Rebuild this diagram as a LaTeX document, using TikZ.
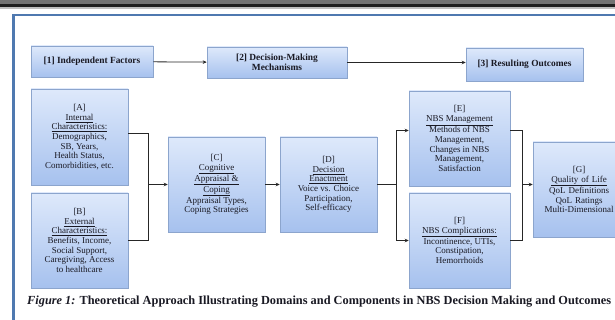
\documentclass[tikz,border=0pt]{standalone}
\usepackage{fontspec}
\usepackage{graphicx}
\setmainfont{Liberation Serif}
\usetikzlibrary{arrows.meta,shadows}
\definecolor{boxtop}{RGB}{222,233,251}
\definecolor{boxbot}{RGB}{166,193,238}
\definecolor{boxline}{RGB}{140,165,205}
\definecolor{framecol}{RGB}{79,121,176}
\definecolor{txt}{RGB}{25,25,35}
\tikzset{
  bx/.style={draw=boxline, line width=0.6pt, top color=boxtop, bottom color=boxbot,
    align=center, inner sep=1pt, text=txt,
    font=\fontsize{9}{9.6}\selectfont,
    drop shadow={shadow xshift=1.2pt, shadow yshift=-1.2pt, fill=black!25}},
  hdr/.style={bx, font=\bfseries\fontsize{9.4}{10}\selectfont},
  conn/.style={draw=black!85, line width=0.8pt},
  arr/.style={conn, -{Stealth[length=4pt,width=3.6pt]}}
}
\begin{document}
\begin{tikzpicture}[x=1pt,y=-1pt]
\useasboundingbox (0,0) rectangle (615,320);
\begin{scope}
\clip (0,0) rectangle (615,320);
% top bar
\fill[black!55] (0,0) rectangle (615,4);
\fill[black!88] (0,4) rectangle (615,7);
\fill[black!25] (0,7) rectangle (615,9);
% frame
\draw[framecol, line width=2.6pt] (13.5,330) |- (630,15);
% header row
\node[hdr, minimum width=122, minimum height=31] (n1) at (92,61.5) {[1] Independent Factors};
\node[hdr, minimum width=140, minimum height=31] (n2) at (277,62.5) {[2] Decision-Making\\Mechanisms};
\node[hdr, minimum width=117, minimum height=33] (n3) at (524.5,64.5) {[3] Resulting Outcomes};
% boxes
\node[bx, minimum width=97, minimum height=96] (A) at (79.5,137)
  {[A]\\\underline{Internal}\\\underline{Characteristics:}\\Demographics,\\SB, Years,\\Health Status,\\Comorbidities, etc.};
\node[bx, minimum width=97, minimum height=95] (B) at (79.5,240.5)
  {[B]\\\underline{External}\\\underline{Characteristics:}\\Benefits, Income,\\Social Support,\\Caregiving, Access\\to healthcare};
\node[bx, minimum width=97, minimum height=95] (C) at (216.5,184.5)
  {[C]\\\underline{Cognitive}\\\underline{Appraisal \&}\\\underline{Coping}\\Appraisal Types,\\Coping Strategies};
\node[bx, minimum width=97, minimum height=95] (D) at (328.5,184.5)
  {[D]\\\underline{Decision}\\\underline{Enactment}\\Voice vs. Choice\\Participation,\\Self-efficacy};
\node[bx, minimum width=101, minimum height=95] (E) at (459.5,138.5)
  {[E]\\\underline{NBS Management}\\Methods of NBS\\Management,\\Changes in NBS\\Management,\\Satisfaction};
\node[bx, minimum width=101, minimum height=95] (F) at (459.5,240.5)
  {[F]\\\underline{NBS Complications:}\\Incontinence, UTIs,\\Constipation,\\Hemorrhoids};
\node[bx, minimum width=92, minimum height=95, text width=88, align=center] (G) at (579,189.5)
  {[G]\\\underline{Quality of Life}\\QoL Definitions\\QoL Ratings\\\makebox[0pt]{Multi-Dimensional}};
% header arrows
\draw[arr] (n1) -- (n2);
\draw[arr] (n2.east) -- (n2.east -| n3.west);
% junctions
\coordinate (jl) at (148,184.5);
\coordinate (jr) at (396,184.5);
\coordinate (jg) at (522,184.5);
\draw[conn] ([yshift=4pt]A.east) -| (jl);
\draw[conn] (B.east) -| (jl);
\draw[arr] (jl) -- (C.west);
\draw[arr] (C) -- (D);
\draw[conn] (D.east) -- (jr);
\draw[arr] (jr) |- ([yshift=8pt]E.west);
\draw[arr] (jr) |- (F.west);
\draw[conn] ([yshift=8pt]E.east) -| (jg);
\draw[conn] (F.east) -| (jg);
\draw[arr] (jg) -- (jg -| G.west);
% caption
\node[anchor=west, inner sep=0pt, text=txt] (cap) at (27,302)
  {\resizebox{584pt}{!}{\bfseries\textit{Figure 1:} Theoretical Approach Illustrating Domains and Components in NBS Decision Making and Outcomes}};
\end{scope}
\end{tikzpicture}
\end{document}
